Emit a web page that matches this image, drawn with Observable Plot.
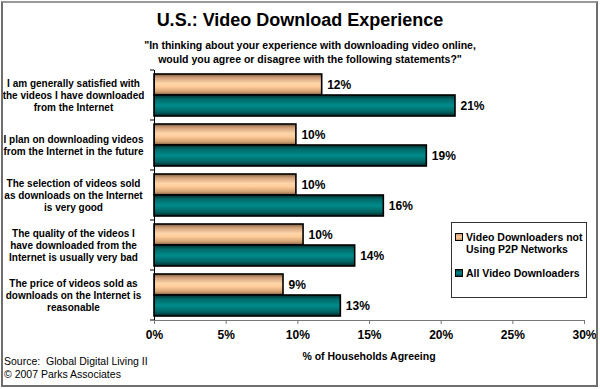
<!DOCTYPE html>
<html><head><meta charset="utf-8">
<script src="https://cdn.jsdelivr.net/npm/d3@7"></script>
<script src="https://cdn.jsdelivr.net/npm/@observablehq/plot@0.6"></script>
<style>
body{margin:0;background:#fff;}
#wrap{position:relative;width:600px;height:389px;background:#fff;font-family:"Liberation Sans",Arial,sans-serif;color:#000;overflow:hidden;}
#wrap svg{position:absolute;left:0;top:0;}
.abs{position:absolute;white-space:nowrap;}
#border{position:absolute;left:1px;top:1px;width:593px;height:382px;border:2px solid #6e6e6e;border-top-color:#9a9a9a;pointer-events:none;}
#title{left:0;width:600px;top:10px;text-align:center;font-weight:bold;font-size:18px;}
#sub{left:10px;width:600px;top:38px;text-align:center;font-weight:bold;font-size:10.5px;line-height:14px;}
#xlab{left:154px;width:430px;top:350px;text-align:center;font-weight:bold;font-size:10.5px;}
#src{left:4px;top:355px;font-size:10.5px;line-height:13px;}
#legend{position:absolute;left:451px;top:222px;width:134px;height:74px;border:1px solid #333;font-size:10.5px;font-weight:bold;}
.li{position:absolute;left:3px;line-height:12px;white-space:nowrap;}
.sw{display:inline-block;width:6px;height:6px;border:1px solid #000;margin-right:3px;vertical-align:0px;}
</style></head>
<body><div id="wrap"></div>
<script>
const categories = [
  "I am generally satisfied with\nthe videos I have downloaded\nfrom the Internet",
  "I plan on downloading videos\nfrom the Internet in the future",
  "The selection of videos sold\nas downloads on the Internet\nis very good",
  "The quality of the videos I\nhave downloaded from the\nInternet is usually very bad",
  "The price of videos sold as\ndownloads on the Internet is\nreasonable"
];
const seriesNames = ["Video Downloaders not Using P2P Networks", "All Video Downloaders"];
const nonP2P = [11.7, 9.9, 9.9, 10.4, 9.0];
const allDownloaders = [21, 19, 16, 14, 13];
const xTicks = [0, 5, 10, 15, 20, 25, 30];

const orange = categories.map((c, i) => ({cat: c, v: nonP2P[i]}));
const teal = categories.map((c, i) => ({cat: c, v: allDownloaders[i]}));

const plot = Plot.plot({
  width: 600, height: 389,
  marginTop: 70, marginBottom: 69, marginLeft: 154, marginRight: 16,
  style: {fontFamily: "'Liberation Sans', Arial, sans-serif", fontWeight: "bold", fontSize: "12px", background: "transparent", overflow: "visible"},
  x: {domain: [0, 30], ticks: xTicks, tickFormat: d => d + "%"},
  y: {domain: categories, paddingInner: 0.16, paddingOuter: 0.08},
  marks: [
    Plot.barX(orange, {y: "cat", x: "v", insetBottom: 21, fill: "url(#gOrange)", stroke: "#000", strokeWidth: 1.6}),
    Plot.barX(teal, {y: "cat", x: "v", insetTop: 21, fill: "url(#gTeal)", stroke: "#000", strokeWidth: 1.6}),
    Plot.text(orange, {y: "cat", x: "v", text: d => Math.round(d.v) + "%", dy: -10.5, dx: 5, textAnchor: "start", fontSize: 12, fontWeight: "bold"}),
    Plot.text(teal, {y: "cat", x: "v", text: d => Math.round(d.v) + "%", dy: 10.5, dx: 5, textAnchor: "start", fontSize: 12, fontWeight: "bold"}),
    Plot.text(categories, {y: d => d, frameAnchor: "left", textAnchor: "middle", dx: -81, fontSize: 10, fontWeight: "bold", lineHeight: 1.2}),
    Plot.ruleX([0], {stroke: "#000", strokeWidth: 1, insetBottom: -4}),
    Plot.frame({anchor: "bottom", stroke: "#777"}),
    Plot.axisX({ticks: xTicks, tickFormat: d => d + "%", tickSize: 4, tickPadding: 6, stroke: "#777", fontSize: 12, fontWeight: "bold", label: null, color: "#000"}),
    Plot.axisY({ticks: [], label: null})
  ]
});

const svg = d3.select(plot);
const defs = svg.insert("defs", ":first-child");
const go = defs.append("linearGradient").attr("id", "gOrange").attr("x1", 0).attr("y1", 0).attr("x2", 0).attr("y2", 1);
[[0, "#7d5c40"], [0.18, "#d2a27a"], [0.45, "#ffd5aa"], [0.6, "#ffcc99"], [0.85, "#d0a070"], [1, "#7d5c40"]]
  .forEach(([o, c]) => go.append("stop").attr("offset", o).attr("stop-color", c));
const gt = defs.append("linearGradient").attr("id", "gTeal").attr("x1", 0).attr("y1", 0).attr("x2", 0).attr("y2", 1);
[[0, "#002e2e"], [0.2, "#006a6a"], [0.5, "#008b8b"], [0.8, "#006464"], [1, "#002a2a"]]
  .forEach(([o, c]) => gt.append("stop").attr("offset", o).attr("stop-color", c));

// boundary ticks on the category axis, from the library's band scale
const ys = plot.scale("y"), xs = plot.scale("x");
const x0 = xs.apply(0);
const gap = (ys.step - ys.bandwidth) / 2;
const bounds = categories.map(c => ys.apply(c) - gap);
bounds.push(ys.apply(categories[categories.length - 1]) + ys.bandwidth + gap);
svg.append("g").selectAll("line").data(bounds).join("line")
  .attr("x1", x0 - 4).attr("x2", x0).attr("y1", d => d).attr("y2", d => d)
  .attr("stroke", "#000");

const wrap = document.getElementById("wrap");
wrap.appendChild(plot);
wrap.insertAdjacentHTML("beforeend", `
<div id="title" class="abs">U.S.: Video Download Experience</div>
<div id="sub" class="abs">"In thinking about your experience with downloading video online,<br>would you agree or disagree with the following statements?"</div>
<div id="xlab" class="abs">% of Households Agreeing</div>
<div id="src" class="abs">Source:&nbsp; Global Digital Living II<br>© 2007 Parks Associates</div>
<div id="legend">
  <div class="li" style="top:8px"><span class="sw" style="background:linear-gradient(#c89a70,#ffcc99,#c89a70)"></span>Video Downloaders not<br><span style="padding-left:11px">Using P2P Networks</span></div>
  <div class="li" style="top:44px"><span class="sw" style="background:linear-gradient(#004040,#008b8b,#004040)"></span>All Video Downloaders</div>
</div>
<div id="border"></div>`);
</script></body></html>
